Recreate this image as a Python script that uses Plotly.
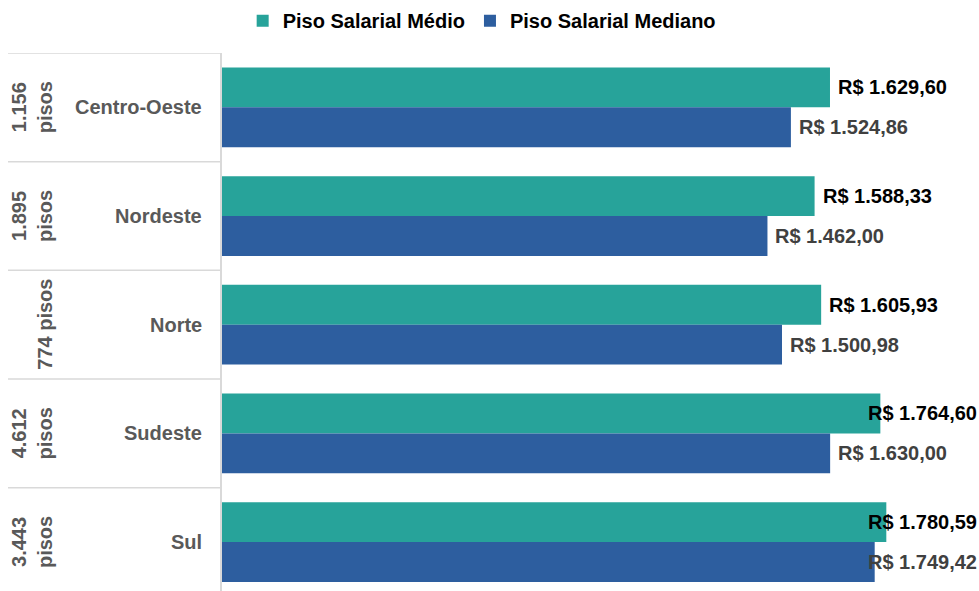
import plotly.graph_objects as go

regions = ["Centro-Oeste", "Nordeste", "Norte", "Sudeste", "Sul"]
counts = ["1.156<br>pisos", "1.895<br>pisos", "774 pisos", "4.612<br>pisos", "3.443<br>pisos"]
medio = [1629.60, 1588.33, 1605.93, 1764.60, 1780.59]
mediano = [1524.86, 1462.00, 1500.98, 1630.00, 1749.42]
series_names = ["Piso Salarial Médio", "Piso Salarial Mediano"]

TEAL = "#27A39A"
BLUE = "#2D5E9F"
GRAY_TXT = "#595959"
LINE = "#D9D9D9"
FONT = "Liberation Sans, Arial, sans-serif"

W, H = 979, 591
ML, MT = 222, 53
XMAX = 2029
BARGAP = 0.266

def fmt(v):
    s = f"{v:,.2f}"
    s = s.replace(",", "X").replace(".", ",").replace("X", ".")
    return "R$ " + s

fig = go.Figure()
fig.add_trace(go.Bar(y=regions, x=medio, orientation="h", name=series_names[0],
                     marker=dict(color=TEAL, line=dict(width=0))))
fig.add_trace(go.Bar(y=regions, x=mediano, orientation="h", name=series_names[1],
                     marker=dict(color=BLUE, line=dict(width=0))))

plot_w = W - ML
annotations = []
half = (1 - BARGAP) / 4
label_room = 122 / plot_w * XMAX
for vals, off, col in ((medio, -half, "#000000"), (mediano, half, "#404040")):
    for i, v in enumerate(vals):
        if v > XMAX - label_room:
            annotations.append(dict(x=1, xref="paper", xanchor="right", y=i + off, yref="y",
                                    text=fmt(v), showarrow=False,
                                    font=dict(family=FONT, size=20, color=col, weight="bold")))
        else:
            annotations.append(dict(x=v, xref="x", xanchor="left", xshift=6, y=i + off, yref="y",
                                    text=fmt(v), showarrow=False,
                                    font=dict(family=FONT, size=20, color=col, weight="bold")))

def px2paper(px):
    return (px - ML) / plot_w

for i, r in enumerate(regions):
    annotations.append(dict(x=px2paper(204), xref="paper", xanchor="right", y=i, yref="y",
                            text=r, showarrow=False,
                            font=dict(family=FONT, size=20, color=GRAY_TXT, weight="bold")))
    cx = 45 if "<br>" not in counts[i] else 32
    annotations.append(dict(x=px2paper(cx), xref="paper", xanchor="center", y=i, yref="y",
                            text=counts[i], showarrow=False, textangle=-90,
                            font=dict(family=FONT, size=20, color=GRAY_TXT, weight="bold")))

shapes = []
for k in range(len(regions)):
    shapes.append(dict(type="line", xref="paper", yref="y", x0=px2paper(8), x1=0,
                       y0=k - 0.5, y1=k - 0.5, line=dict(color=LINE, width=1.5)))

fig.update_layout(
    width=W, height=H,
    margin=dict(l=ML, r=0, t=MT, b=0),
    paper_bgcolor="white", plot_bgcolor="white",
    barmode="group", bargap=BARGAP, bargroupgap=0,
    font=dict(family=FONT, size=20, color="#000000", weight="bold"),
    xaxis=dict(range=[0, XMAX], showticklabels=False, showgrid=False, zeroline=False,
               showline=False, fixedrange=True),
    yaxis=dict(categoryorder="array", categoryarray=regions, range=[4.45, -0.5],
               showticklabels=False, showgrid=False, zeroline=False,
               showline=True, linecolor=LINE, linewidth=1.5, ticks=""),
    legend=dict(orientation="h", xref="container", yref="container", x=0.492, y=0.965,
                xanchor="center", yanchor="middle", traceorder="normal",
                font=dict(family=FONT, size=20, color="#000000", weight="bold"),
                itemwidth=30, bgcolor="rgba(0,0,0,0)"),
    annotations=annotations, shapes=shapes, showlegend=True,
)

fig.write_html("out.html", config={"displayModeBar": False},
               post_script="document.body.style.margin='0';document.body.style.padding='0';document.body.style.overflow='hidden';")
